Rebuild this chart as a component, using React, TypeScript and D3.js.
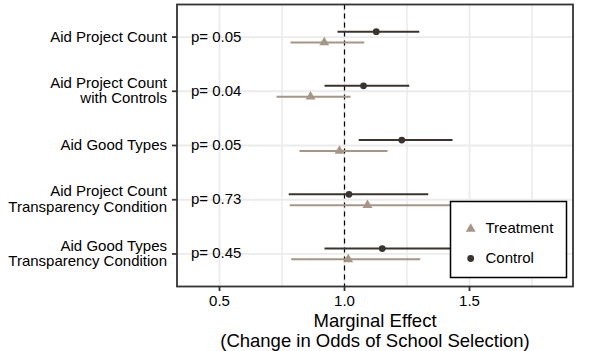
import React from "react";
import * as d3 from "d3";

const categories = [
  "Aid Project Count",
  "Aid Project Count\nwith Controls",
  "Aid Good Types",
  "Aid Project Count\nTransparency Condition",
  "Aid Good Types\nTransparency Condition",
];
const pLabels = ["p= 0.05", "p= 0.04", "p= 0.05", "p= 0.73", "p= 0.45"];
const controlEst = [1.127, 1.076, 1.229, 1.018, 1.151];
const controlLo = [0.972, 0.92, 1.057, 0.777, 0.92];
const controlHi = [1.299, 1.259, 1.432, 1.335, 1.44];
const treatEst = [0.919, 0.864, 0.98, 1.092, 1.015];
const treatLo = [0.784, 0.728, 0.82, 0.781, 0.787];
const treatHi = [1.079, 1.024, 1.172, 1.45, 1.303];
const xTicks = [0.5, 1.0, 1.5];
const xMinor = [0.75, 1.25, 1.75];
const legendLabels = ["Treatment", "Control"];

const W = 598;
const H = 351;
const panel = { left: 177, right: 573, top: 4.5, bottom: 286.5 };
const CTRL = "#3a3431";
const TREAT = "#a59685";
const FONT = "'Liberation Sans', Arial, Helvetica, sans-serif";

export default function App() {
  const x = d3
    .scaleLinear()
    .domain([0.5, 1.5])
    .range([219.5, 469.5]);
  const y = d3
    .scalePoint<string>()
    .domain(categories)
    .range([panel.top, panel.bottom])
    .padding(0.6);
  const dodge = 5.4;
  const tri = d3.symbol().type(d3.symbolTriangle).size(42)() as string;
  const circ = d3.symbol().type(d3.symbolCircle).size(36)() as string;

  return (
    <svg
      width={W}
      height={H}
      style={{ position: "absolute", left: 0, top: 0, background: "#fff" }}
      fontFamily={FONT}
    >
      <rect x={0} y={0} width={W} height={H} fill="#fff" />
      {/* grid */}
      {xMinor.map((v) => (
        <line key={"mn" + v} x1={x(v)} x2={x(v)} y1={panel.top} y2={panel.bottom} stroke="#ebebeb" strokeWidth={1.6} />
      ))}
      {xTicks.map((v) => (
        <line key={"mj" + v} x1={x(v)} x2={x(v)} y1={panel.top} y2={panel.bottom} stroke="#ebebeb" strokeWidth={1.8} />
      ))}
      {categories.map((c) => (
        <line key={"gy" + c} x1={panel.left} x2={panel.right} y1={y(c)} y2={y(c)} stroke="#ebebeb" strokeWidth={1.8} />
      ))}
      {/* reference line */}
      <line x1={x(1)} x2={x(1)} y1={panel.top} y2={panel.bottom} stroke="#000" strokeWidth={1.2} strokeDasharray="5,4" />
      {/* p labels */}
      {categories.map((c, i) => (
        <text key={"p" + i} x={191} y={(y(c) as number) + 0.5} dominantBaseline="middle" fontSize={15} fill="#000">
          {pLabels[i]}
        </text>
      ))}
      {/* treatment */}
      {categories.map((c, i) => {
        const yy = (y(c) as number) + dodge;
        return (
          <g key={"t" + i}>
            <line x1={x(treatLo[i])} x2={x(treatHi[i])} y1={yy} y2={yy} stroke={TREAT} strokeWidth={2} />
            <path d={tri} transform={`translate(${x(treatEst[i])},${yy})`} fill={TREAT} />
          </g>
        );
      })}
      {/* control */}
      {categories.map((c, i) => {
        const yy = (y(c) as number) - dodge;
        return (
          <g key={"c" + i}>
            <line x1={x(controlLo[i])} x2={x(controlHi[i])} y1={yy} y2={yy} stroke={CTRL} strokeWidth={2} />
            <path d={circ} transform={`translate(${x(controlEst[i])},${yy})`} fill={CTRL} />
          </g>
        );
      })}
      {/* panel border */}
      <rect
        x={panel.left}
        y={panel.top}
        width={panel.right - panel.left}
        height={panel.bottom - panel.top}
        fill="none"
        stroke="#333"
        strokeWidth={1.8}
      />
      {/* y axis ticks and labels */}
      {categories.map((c, i) => {
        const yy = y(c) as number;
        const lines = c.split("\n");
        const lh = 15.5;
        return (
          <g key={"yl" + i}>
            <line x1={panel.left - 5} x2={panel.left} y1={yy} y2={yy} stroke="#333" strokeWidth={1.8} />
            {lines.map((ln, j) => (
              <text
                key={j}
                x={167}
                y={yy + (j - (lines.length - 1) / 2) * lh + 0.5}
                textAnchor="end"
                dominantBaseline="middle"
                fontSize={15}
                fill="#000"
              >
                {ln}
              </text>
            ))}
          </g>
        );
      })}
      {/* x axis ticks and labels */}
      {xTicks.map((v) => (
        <g key={"xt" + v}>
          <line x1={x(v)} x2={x(v)} y1={panel.bottom} y2={panel.bottom + 4.5} stroke="#333" strokeWidth={1.8} />
          <text x={x(v)} y={302.5} textAnchor="middle" dominantBaseline="middle" fontSize={15} fill="#000">
            {d3.format(".1f")(v)}
          </text>
        </g>
      ))}
      {/* axis title */}
      <text x={(panel.left + panel.right) / 2} y={322} textAnchor="middle" dominantBaseline="middle" fontSize={18.5} fill="#000">
        Marginal Effect
      </text>
      <text x={(panel.left + panel.right) / 2} y={342} textAnchor="middle" dominantBaseline="middle" fontSize={18.5} fill="#000">
        (Change in Odds of School Selection)
      </text>
      {/* legend */}
      <g>
        <rect x={450.5} y={201.5} width={116} height={76} fill="#fff" stroke="#000" strokeWidth={1.5} />
        <path d={tri} transform={`translate(470.7,229)`} fill={TREAT} />
        <text x={485.5} y={229.5} dominantBaseline="middle" fontSize={15} fill="#000">
          {legendLabels[0]}
        </text>
        <path d={circ} transform={`translate(470.7,258.5)`} fill={CTRL} />
        <text x={485.5} y={259} dominantBaseline="middle" fontSize={15} fill="#000">
          {legendLabels[1]}
        </text>
      </g>
    </svg>
  );
}
